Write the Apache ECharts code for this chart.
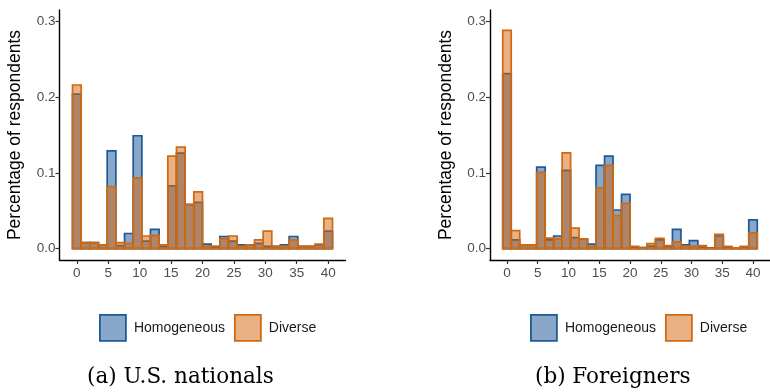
<!DOCTYPE html>
<html>
<head>
<meta charset="utf-8">
<script src="https://cdn.jsdelivr.net/npm/echarts@6/dist/echarts.min.js"></script>
<style>
html,body{margin:0;padding:0;background:#fff;}
#chart{width:770px;height:392px;}
</style>
</head>
<body>
<div id="chart"></div>
<script>
// Histogram bin centres (30 bins over 0..40)
var binCenters = [0, 1.38, 2.76, 4.14, 5.52, 6.90, 8.28, 9.66, 11.03, 12.41, 13.79, 15.17, 16.55, 17.93, 19.31,
  20.69, 22.07, 23.45, 24.83, 26.21, 27.59, 28.97, 30.34, 31.72, 33.10, 34.48, 35.86, 37.24, 38.62, 40.00];
var binWidth = 40 / 29;

// (a) U.S. nationals
var usHomogeneous = [0.204, 0.008, 0.008, 0.005, 0.129, 0.004, 0.020, 0.149, 0.010, 0.0255, 0.003, 0.083, 0.126, 0.058, 0.061,
  0.006, 0.002, 0.016, 0.010, 0.005, 0.0045, 0.007, 0.003, 0.003, 0.005, 0.016, 0.003, 0.003, 0.005, 0.023];
var usDiverse = [0.216, 0.008, 0.008, 0.005, 0.082, 0.008, 0.007, 0.0935, 0.0167, 0.0176, 0.005, 0.122, 0.134, 0.0585, 0.075,
  0.003, 0.0035, 0.013, 0.0167, 0.003, 0.005, 0.0115, 0.023, 0.003, 0.0035, 0.0115, 0.003, 0.003, 0.006, 0.040];

// (b) Foreigners
var fgHomogeneous = [0.231, 0.0115, 0.005, 0.005, 0.1077, 0.0115, 0.0167, 0.1033, 0.0145, 0.013, 0.006, 0.110, 0.122, 0.051, 0.0717,
  0.002, 0.0015, 0.0035, 0.0115, 0.003, 0.0255, 0.005, 0.0106, 0.002, 0.001, 0.0167, 0.002, 0.001, 0.002, 0.038];
var fgDiverse = [0.288, 0.0237, 0.005, 0.005, 0.1006, 0.014, 0.0128, 0.1265, 0.027, 0.013, 0.003, 0.080, 0.110, 0.0435, 0.0598,
  0.003, 0.001, 0.0066, 0.0137, 0.004, 0.009, 0.0035, 0.0035, 0.004, 0.0005, 0.019, 0.003, 0.001, 0.003, 0.021];

var xTicks = [0, 5, 10, 15, 20, 25, 30, 35, 40];
var yTicks = [0, 0.1, 0.2, 0.3];
var seriesNames = ['Homogeneous', 'Diverse'];
var captions = ['(a) U.S. nationals', '(b) Foreigners'];

var BLUE_FILL = 'rgba(20,80,145,0.5)', BLUE_LINE = '#1d5a98';
var ORANGE_FILL = 'rgba(213,100,10,0.5)', ORANGE_LINE = '#d0690f';
var SANS = '"Liberation Sans", Arial, Helvetica, sans-serif';

function pairs(vals) { return binCenters.map(function (c, i) { return [c, vals[i]]; }); }

function render(fill, stroke) {
  return function (params, api) {
    var x = api.value(0), y = api.value(1);
    var p1 = api.coord([x - binWidth / 2, y]);
    var p2 = api.coord([x + binWidth / 2, 0]);
    return {
      type: 'rect',
      shape: { x: p1[0], y: p1[1], width: p2[0] - p1[0], height: p2[1] - p1[1] },
      style: { fill: fill, stroke: stroke, lineWidth: 1.7 }
    };
  };
}

function mkSeries(name, vals, idx, fill, stroke, z) {
  return {
    type: 'custom', name: name, xAxisIndex: idx, yAxisIndex: idx,
    data: pairs(vals), encode: { x: 0, y: 1 }, clip: false, z: z,
    itemStyle: { color: fill, borderColor: stroke, borderWidth: 1.7 },
    renderItem: render(fill, stroke), silent: true
  };
}

function xAxis(idx) {
  return {
    type: 'value', gridIndex: idx, min: -2.759, max: 42.759,
    axisLine: { show: true, onZero: false, lineStyle: { color: '#000', width: 1.4 } },
    axisTick: { show: true, length: 4, lineStyle: { color: '#333', width: 1.2 }, customValues: xTicks },
    axisLabel: { customValues: xTicks, color: '#4d4d4d', fontSize: 13.5, fontFamily: SANS, margin: 6 },
    splitLine: { show: false }
  };
}
function yAxis(idx, gap) {
  return {
    type: 'value', gridIndex: idx, min: -0.015, max: 0.315,
    name: 'Percentage of respondents', nameLocation: 'middle', nameRotate: 90, nameGap: gap,
    nameTextStyle: { color: '#000', fontSize: 17.5, fontFamily: SANS },
    axisLine: { show: true, onZero: false, lineStyle: { color: '#000', width: 1.4 } },
    axisTick: { show: true, length: 4, lineStyle: { color: '#333', width: 1.2 }, customValues: yTicks },
    axisLabel: { customValues: yTicks, color: '#4d4d4d', fontSize: 13.5, fontFamily: SANS, margin: 4,
      formatter: function (v) { return v.toFixed(1); } },
    splitLine: { show: false }
  };
}
function legend(left) {
  return {
    left: left, top: 309, orient: 'horizontal', icon: 'rect',
    itemWidth: 26, itemHeight: 26, itemGap: 9, selectedMode: false,
    textStyle: { fontSize: 14, color: '#1a1a1a', fontFamily: SANS, padding: [0, 0, 0, 3] },
    data: [
      { name: seriesNames[0], itemStyle: { color: BLUE_FILL, borderColor: BLUE_LINE, borderWidth: 1.8 } },
      { name: seriesNames[1], itemStyle: { color: ORANGE_FILL, borderColor: ORANGE_LINE, borderWidth: 1.8 } }
    ]
  };
}

var chart = echarts.init(document.getElementById('chart'), null, { renderer: 'canvas' });
chart.setOption({
  animation: false,
  backgroundColor: '#fff',
  grid: [
    { left: 59.5, top: 10, width: 286, height: 250 },
    { left: 490, top: 10, width: 285.6, height: 250 }
  ],
  xAxis: [xAxis(0), xAxis(1)],
  yAxis: [yAxis(0, 35.5), yAxis(1, 35)],
  legend: [legend(94), legend(525)],
  series: [
    mkSeries(seriesNames[0], usHomogeneous, 0, BLUE_FILL, BLUE_LINE, 2),
    mkSeries(seriesNames[1], usDiverse, 0, ORANGE_FILL, ORANGE_LINE, 3),
    mkSeries(seriesNames[0], fgHomogeneous, 1, BLUE_FILL, BLUE_LINE, 2),
    mkSeries(seriesNames[1], fgDiverse, 1, ORANGE_FILL, ORANGE_LINE, 3)
  ],
  graphic: [
    { type: 'text', left: 87, top: 366, style: { text: captions[0], font: '21.5px "DejaVu Serif", serif', fill: '#000' } },
    { type: 'text', left: 535, top: 366, style: { text: captions[1], font: '21.5px "DejaVu Serif", serif', fill: '#000' } }
  ]
});
</script>
</body>
</html>
